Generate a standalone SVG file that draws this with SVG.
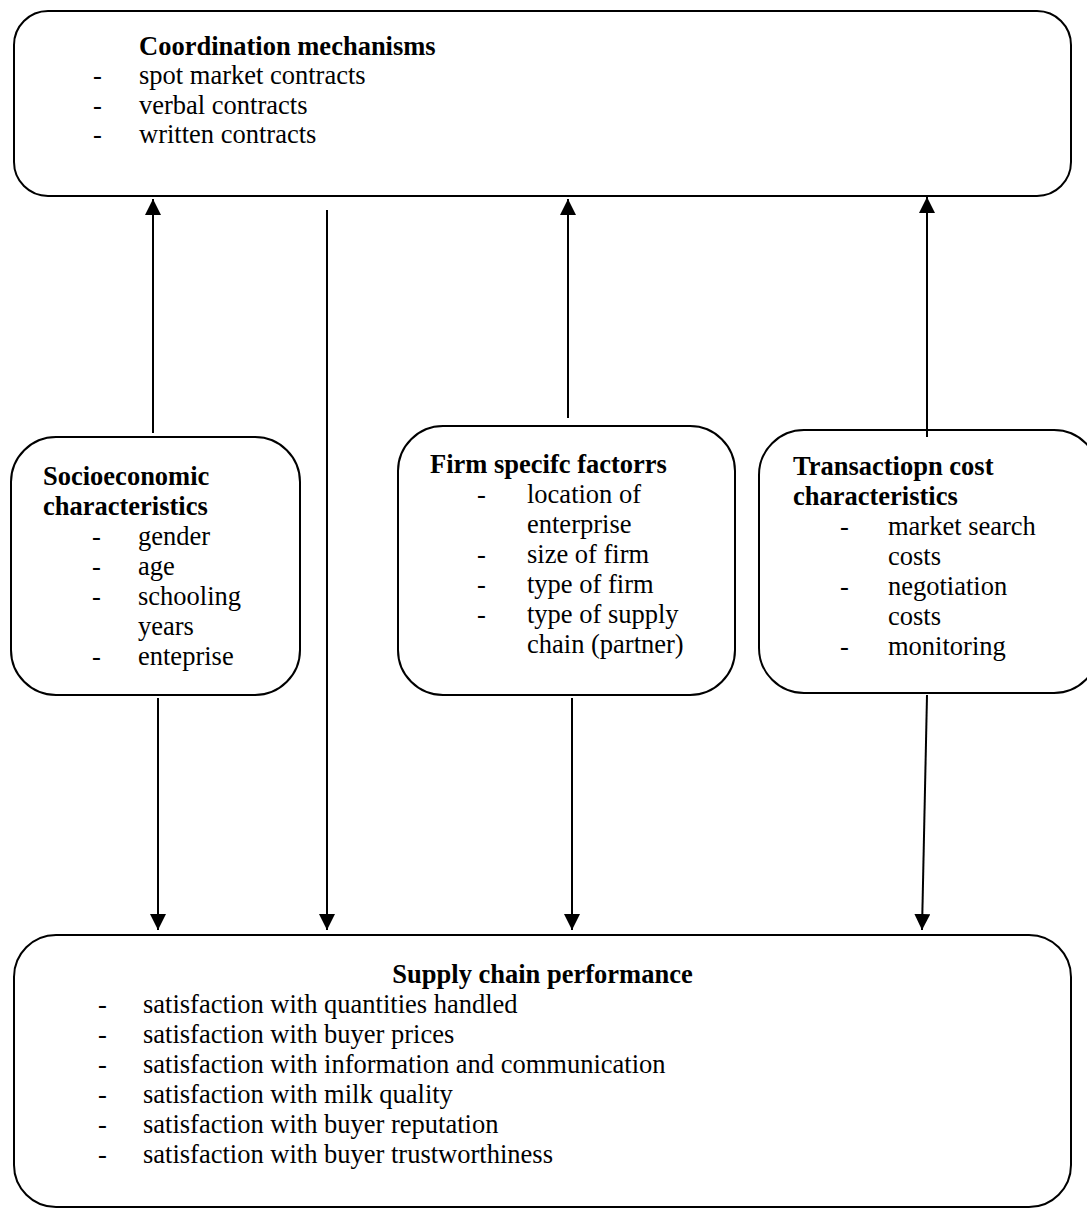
<svg xmlns="http://www.w3.org/2000/svg" width="1087" height="1209" viewBox="0 0 1087 1209">
<defs>
<marker id="ah" viewBox="0 0 16 16" refX="16" refY="8" markerWidth="16" markerHeight="16" markerUnits="userSpaceOnUse" orient="auto">
<path d="M0,0 L16,8 L0,16 Z" fill="#000"/>
</marker>
<style>
.box{fill:#fff;stroke:#000;stroke-width:2}
.t{font-family:"Liberation Serif","Times New Roman",serif;font-size:26.5px;fill:#000}
.b{font-weight:bold}
.c{stroke:#000;stroke-width:2;fill:none;marker-end:url(#ah)}
</style>
</defs>
<rect width="1087" height="1209" fill="#fff"/>
<g id="coordination">
<rect class="box" x="14" y="11" width="1057" height="185" rx="34" ry="34"/>
<text class="t b" x="139" y="55">Coordination mechanisms</text>
<text class="t" x="93" y="84">-</text><text class="t" x="139" y="84">spot market contracts</text>
<text class="t" x="93" y="113.5">-</text><text class="t" x="139" y="113.5">verbal contracts</text>
<text class="t" x="93" y="143">-</text><text class="t" x="139" y="143">written contracts</text>
</g>
<g id="socioeconomic">
<rect class="box" x="11" y="437" width="289" height="258" rx="45" ry="45"/>
<text class="t b" x="43" y="485">Socioeconomic</text>
<text class="t b" x="43" y="515">characteristics</text>
<text class="t" x="92" y="545">-</text><text class="t" x="138" y="545">gender</text>
<text class="t" x="92" y="575">-</text><text class="t" x="138" y="575">age</text>
<text class="t" x="92" y="605">-</text><text class="t" x="138" y="605">schooling</text>
<text class="t" x="138" y="635">years</text>
<text class="t" x="92" y="665">-</text><text class="t" x="138" y="665">enteprise</text>
</g>
<g id="firm">
<rect class="box" x="398" y="426" width="337" height="269" rx="45" ry="45"/>
<text class="t b" x="430" y="473">Firm specifc factorrs</text>
<text class="t" x="477" y="503">-</text><text class="t" x="527" y="503">location of</text>
<text class="t" x="527" y="533">enterprise</text>
<text class="t" x="477" y="563">-</text><text class="t" x="527" y="563">size of firm</text>
<text class="t" x="477" y="593">-</text><text class="t" x="527" y="593">type of firm</text>
<text class="t" x="477" y="623">-</text><text class="t" x="527" y="623">type of supply</text>
<text class="t" x="527" y="653">chain (partner)</text>
</g>
<g id="transaction">
<rect class="box" x="759" y="430" width="340" height="263" rx="45" ry="45"/>
<text class="t b" x="793" y="475">Transactiopn cost</text>
<text class="t b" x="793" y="505">characteristics</text>
<text class="t" x="840" y="535">-</text><text class="t" x="888" y="535">market search</text>
<text class="t" x="888" y="565">costs</text>
<text class="t" x="840" y="595">-</text><text class="t" x="888" y="595">negotiation</text>
<text class="t" x="888" y="625">costs</text>
<text class="t" x="840" y="655">-</text><text class="t" x="888" y="655">monitoring</text>
</g>
<g id="performance">
<rect class="box" x="14" y="935" width="1057" height="272" rx="42" ry="42"/>
<text class="t b" x="542.5" y="983" text-anchor="middle">Supply chain performance</text>
<text class="t" x="98" y="1013">-</text><text class="t" x="143" y="1013">satisfaction with quantities handled</text>
<text class="t" x="98" y="1043">-</text><text class="t" x="143" y="1043">satisfaction with buyer prices</text>
<text class="t" x="98" y="1073">-</text><text class="t" x="143" y="1073">satisfaction with information and communication</text>
<text class="t" x="98" y="1103">-</text><text class="t" x="143" y="1103">satisfaction with milk quality</text>
<text class="t" x="98" y="1133">-</text><text class="t" x="143" y="1133">satisfaction with buyer reputation</text>
<text class="t" x="98" y="1163">-</text><text class="t" x="143" y="1163">satisfaction with buyer trustworthiness</text>
</g>
<g id="connectors">
<line class="c" x1="153" y1="433" x2="153" y2="199"/>
<line class="c" x1="568" y1="418" x2="568" y2="199"/>
<line class="c" x1="927" y1="437" x2="927" y2="197"/>
<line class="c" x1="327" y1="210" x2="327" y2="930"/>
<line class="c" x1="158" y1="698" x2="158" y2="930"/>
<line class="c" x1="572" y1="698" x2="572" y2="930"/>
<line class="c" x1="927" y1="695" x2="922" y2="930"/>
</g>
</svg>
